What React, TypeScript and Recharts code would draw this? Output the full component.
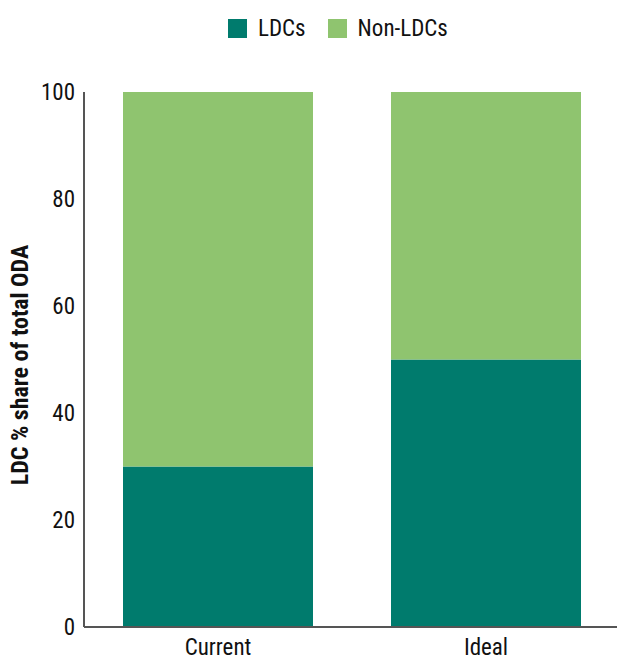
import React from 'react'
import { BarChart, Bar, XAxis, YAxis } from 'recharts'

const categories = ['Current', 'Ideal']
const ldcShare = [30, 50]
const nonLdcShare = [70, 50]
const yTicks = [0, 20, 40, 60, 80, 100]

const DARK = '#007B6D'
const LIGHT = '#8FC46F'
const FONT = '"Liberation Sans Narrow", "Roboto Condensed", "Arial Narrow", sans-serif'

const data = categories.map((name, i) => ({ name, ldc: ldcShare[i], nonLdc: nonLdcShare[i] }))

const legendItems = [
  { label: 'LDCs', color: DARK },
  { label: 'Non-LDCs', color: LIGHT },
]

// legend sits above the plot, kept out of the chart so it reserves no space
function LegendBox() {
  return (
    <div style={{ position: 'absolute', top: 15, left: 228, display: 'flex', alignItems: 'center', fontFamily: FONT, fontSize: 23, color: '#111' }}>
      {legendItems.map((it, i) => (
        <span key={it.label} style={{ display: 'flex', alignItems: 'center', marginLeft: i ? 22 : 0 }}>
          <span style={{ width: 19, height: 19, background: it.color, display: 'inline-block', marginRight: 11 }} />
          {it.label}
        </span>
      ))}
    </div>
  )
}

const YLabel = () => (
  <text
    x={28}
    y={365}
    transform="rotate(-90 28 365)"
    textAnchor="middle"
    fontFamily={FONT}
    fontWeight={700}
    fontSize={24}
    fill="#111"
  >
    LDC % share of total ODA
  </text>
)

export default function App() {
  return (
    <div style={{ position: 'absolute', left: 0, top: 0, width: 617, height: 660, overflow: 'hidden', background: '#fff' }}>
      <LegendBox />
      <BarChart width={640} height={660} data={data} margin={{ top: 92, right: 20, bottom: 3, left: 0 }} barSize={190}>
        <XAxis
          dataKey="name"
          height={30}
          tickLine={false}
          tickSize={0}
          tickMargin={12}
          axisLine={{ stroke: '#555', strokeWidth: 2 }}
          tick={{ fill: '#111', fontSize: 23, fontFamily: FONT }}
        />
        <YAxis
          width={84}
          domain={[0, 100]}
          ticks={yTicks}
          tickLine={false}
          tickSize={0}
          tickMargin={9}
          axisLine={{ stroke: '#555', strokeWidth: 2 }}
          tick={{ fill: '#111', fontSize: 23, fontFamily: FONT }}
          label={{ content: () => <YLabel /> }}
        />
        <Bar dataKey="ldc" stackId="a" fill={DARK} isAnimationActive={false} />
        <Bar dataKey="nonLdc" stackId="a" fill={LIGHT} isAnimationActive={false} />
      </BarChart>
    </div>
  )
}
